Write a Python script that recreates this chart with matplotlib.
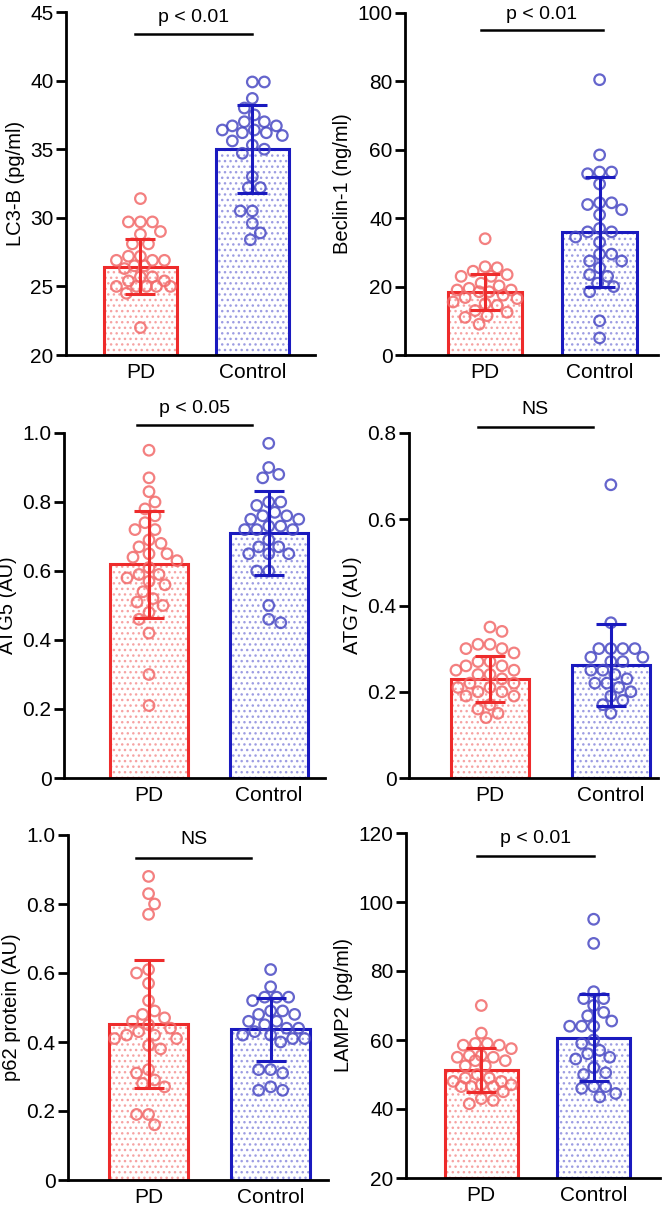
import numpy as np
import matplotlib
matplotlib.use("Agg")
from matplotlib import pyplot as plt

plt.rcParams['font.family'] = ['Liberation Sans', 'DejaVu Sans']

groups = ["PD", "Control"]

# LC3-B (pg/ml)
lc3_pd = [31.4, 29.7, 29.7, 29.7, 29.0, 28.8, 28.1, 28.1, 27.2, 27.2, 26.9, 26.9, 26.9, 26.5,
          26.5, 26.3, 25.7, 25.7, 25.4, 25.4, 25.0, 25.0, 25.0, 25.0, 25.0, 24.5, 22.0]
lc3_ctrl = [39.9, 39.9, 38.7, 38.0, 37.5, 37.0, 37.0, 36.7, 36.7, 36.4, 36.4, 36.2, 36.2, 36.0,
            35.6, 35.3, 35.0, 34.7, 33.0, 32.2, 32.2, 30.5, 30.5, 29.6, 28.9, 28.4]
lc3_mean = [26.45, 35.0]
lc3_sd = [2.0, 3.2]

# Beclin-1 (ng/ml)
beclin_pd = [34.0, 25.8, 25.5, 24.5, 23.5, 23.0, 23.0, 21.0, 20.2, 19.5, 19.0, 19.0, 18.5, 18.5,
             17.5, 16.8, 16.5, 15.5, 15.0, 14.5, 13.0, 12.5, 11.5, 11.0, 9.0]
beclin_ctrl = [80.5, 58.5, 53.5, 53.5, 53.0, 50.0, 44.5, 44.5, 44.0, 42.5, 41.0, 37.0, 36.0, 36.0,
               34.5, 33.0, 29.5, 29.5, 27.5, 27.5, 25.5, 23.5, 23.0, 21.0, 20.0, 18.5, 10.0, 5.0]
beclin_mean = [18.5, 36.0]
beclin_sd = [5.3, 16.0]

# ATG5 (AU)
atg5_pd = [0.95, 0.87, 0.83, 0.80, 0.78, 0.76, 0.74, 0.72, 0.72, 0.69, 0.68, 0.67, 0.65, 0.65,
           0.64, 0.63, 0.61, 0.59, 0.59, 0.58, 0.57, 0.56, 0.54, 0.52, 0.51, 0.50, 0.48, 0.46,
           0.42, 0.30, 0.21]
atg5_ctrl = [0.97, 0.90, 0.88, 0.87, 0.80, 0.80, 0.79, 0.77, 0.76, 0.76, 0.75, 0.75, 0.73, 0.73,
             0.72, 0.72, 0.72, 0.69, 0.67, 0.67, 0.65, 0.65, 0.65, 0.60, 0.60, 0.50, 0.46, 0.45]
atg5_mean = [0.62, 0.71]
atg5_sd = [0.155, 0.123]

# ATG7 (AU)
atg7_pd = [0.35, 0.34, 0.31, 0.31, 0.30, 0.30, 0.29, 0.27, 0.27, 0.26, 0.26, 0.25, 0.25, 0.24,
           0.24, 0.23, 0.22, 0.22, 0.21, 0.21, 0.20, 0.20, 0.19, 0.19, 0.17, 0.16, 0.15, 0.14]
atg7_ctrl = [0.68, 0.36, 0.30, 0.30, 0.30, 0.30, 0.28, 0.28, 0.27, 0.27, 0.25, 0.25, 0.24, 0.23,
             0.22, 0.22, 0.21, 0.20, 0.19, 0.18, 0.17, 0.15]
atg7_mean = [0.23, 0.263]
atg7_sd = [0.054, 0.095]

# p62 protein (AU)
p62_pd = [0.88, 0.83, 0.80, 0.77, 0.61, 0.60, 0.57, 0.52, 0.49, 0.48, 0.47, 0.46, 0.45, 0.44,
          0.43, 0.42, 0.42, 0.41, 0.41, 0.39, 0.38, 0.32, 0.31, 0.29, 0.28, 0.27, 0.19, 0.19, 0.16]
p62_ctrl = [0.61, 0.56, 0.53, 0.53, 0.53, 0.52, 0.49, 0.49, 0.48, 0.48, 0.46, 0.46, 0.45, 0.44,
            0.44, 0.43, 0.42, 0.42, 0.41, 0.41, 0.40, 0.32, 0.32, 0.31, 0.27, 0.26, 0.26]
p62_mean = [0.453, 0.437]
p62_sd = [0.185, 0.091]

# LAMP2 (pg/ml)
lamp_pd = [70, 62, 59, 59, 58.5, 58.5, 57.5, 55.5, 55.5, 55, 55, 54, 54, 52.5, 52.5, 50, 49, 49,
           48, 48, 47, 47, 46.5, 46.5, 46.5, 45, 43, 42.5, 41.5]
lamp_ctrl = [95, 88, 74, 72, 72, 70, 68, 67, 65.5, 64, 64, 64, 60, 59, 57, 56, 55, 54.5, 52,
             50.5, 50, 46.5, 46.5, 46, 44.5, 43.5]
lamp_mean = [51.4, 60.6]
lamp_sd = [6.4, 12.6]

ylabels = ["LC3-B (pg/ml)", "Beclin-1 (ng/ml)", "ATG5 (AU)", "ATG7 (AU)",
           "p62 protein (AU)", "LAMP2 (pg/ml)"]
sig_texts = ["p < 0.01", "p < 0.01", "p < 0.05", "NS", "NS", "p < 0.01"]
yticks = [[20, 25, 30, 35, 40, 45], [0, 20, 40, 60, 80, 100], [0, 0.2, 0.4, 0.6, 0.8, 1.0],
          [0, 0.2, 0.4, 0.6, 0.8], [0, 0.2, 0.4, 0.6, 0.8, 1.0], [20, 40, 60, 80, 100, 120]]
ytick_labels = [["20", "25", "30", "35", "40", "45"], ["0", "20", "40", "60", "80", "100"],
                ["0", "0.2", "0.4", "0.6", "0.8", "1.0"], ["0", "0.2", "0.4", "0.6", "0.8"],
                ["0", "0.2", "0.4", "0.6", "0.8", "1.0"], ["20", "40", "60", "80", "100", "120"]]

# layout (pixels in a 666x1207 figure): left, right, top, bottom
boxes = [(66, 315, 12, 355), (405, 658, 13, 355), (64, 325, 433, 778),
         (409, 658, 433, 778), (68, 328, 835, 1180), (406, 660, 833, 1178)]
xlims = [(-0.665, 1.56), (-0.70, 1.51), (-0.71, 1.47), (-0.67, 1.39), (-0.66, 1.47), (-0.67, 1.59)]
sig_line_y = [43.4, 94.9, 1.022, 0.813, 0.932, 113.4]
sig_text_y = [44.6, 99.6, 1.07, 0.854, 0.986, 118.5]
sig_x = [(-0.05, 1.0), (-0.04, 1.03), (-0.1, 0.86), (-0.1, 0.85), (-0.1, 0.84), (-0.04, 1.0)]

points = [(lc3_pd, lc3_ctrl), (beclin_pd, beclin_ctrl), (atg5_pd, atg5_ctrl),
          (atg7_pd, atg7_ctrl), (p62_pd, p62_ctrl), (lamp_pd, lamp_ctrl)]
means = [lc3_mean, beclin_mean, atg5_mean, atg7_mean, p62_mean, lamp_mean]
sds = [lc3_sd, beclin_sd, atg5_sd, atg7_sd, p62_sd, lamp_sd]

edge_cols = ['#ee2b2b', '#1a1abf']
dot_cols = ['#f6a3a3', '#9d9de2']
pt_cols = ['#f26a6a', '#4a4ac4']
BAR_W = 0.65


def swarm_offsets(vals, ppx, ppy, d=11.5, step=2.0, limit=30.0):
    # simple beeswarm: returns x offsets in data units, kept within +-limit px
    ys = np.asarray(vals, dtype=float) * ppy
    order = np.argsort(-ys, kind='stable')
    placed = []
    offs = np.zeros(len(ys))
    flip = 1
    for i in order:
        best, best_gap = 0.0, -1.0
        k = 0
        while k * step <= limit:
            cands = [0.0] if k == 0 else [flip * k * step, -flip * k * step]
            for c in cands:
                gap = min([np.hypot(c - px, ys[i] - py) for px, py in placed] or [1e9])
                if gap >= d:
                    best, best_gap = c, 1e9
                    break
                if gap > best_gap:
                    best, best_gap = c, gap
            if best_gap >= 1e9:
                break
            k += 1
        if best != 0:
            flip = -flip
        offs[i] = best
        placed.append((best, ys[i]))
    return offs / ppx


fig = plt.figure(figsize=(6.66, 12.07), dpi=100)
W, H = 666.0, 1207.0

for n in range(6):
    l, r, t, b = boxes[n]
    ax = fig.add_axes([l / W, 1 - b / H, (r - l) / W, (b - t) / H])
    ax.set_xlim(*xlims[n])
    ax.set_ylim(yticks[n][0], yticks[n][-1])

    for g in range(2):
        # dotted fill
        ax.bar(g, means[n][g] - yticks[n][0], bottom=yticks[n][0], width=BAR_W, color='white',
               edgecolor=dot_cols[g], hatch='...', linewidth=0, zorder=1)
        # outline
        ax.bar(g, means[n][g] - yticks[n][0], bottom=yticks[n][0], width=BAR_W, fill=False,
               edgecolor=edge_cols[g], linewidth=2.2, zorder=2)

    ppx = ax.transData.transform([[1, 0]])[0][0] - ax.transData.transform([[0, 0]])[0][0]
    ppy = ax.transData.transform([[0, 1]])[0][1] - ax.transData.transform([[0, 0]])[0][1]

    for g in range(2):
        vals = points[n][g]
        xs = g + swarm_offsets(vals, ppx, ppy, limit=BAR_W * ppx / 2 - 5)
        ax.scatter(xs, vals, s=58, facecolors='none', edgecolors=pt_cols[g],
                   linewidths=1.6, alpha=0.85, zorder=3, clip_on=False)
        ax.errorbar(g, means[n][g], yerr=sds[n][g], color=edge_cols[g], elinewidth=2.2,
                    capsize=11, capthick=2.2, zorder=4)

    ax.plot(sig_x[n], [sig_line_y[n]] * 2, color='black', lw=1.8, clip_on=False)
    ax.text(np.mean(sig_x[n]), sig_text_y[n], sig_texts[n], ha='center', va='center',
            fontsize=14)

    ax.spines['top'].set_visible(False)
    ax.spines['right'].set_visible(False)
    ax.spines['left'].set_linewidth(2.0)
    ax.spines['bottom'].set_linewidth(2.0)
    ax.set_yticks(yticks[n])
    ax.set_yticklabels(ytick_labels[n])
    ax.set_xticks([0, 1])
    ax.set_xticklabels(groups)
    ax.tick_params(axis='y', length=7, width=2.0, labelsize=15, pad=2)
    ax.tick_params(axis='x', length=0, labelsize=15, pad=6)
    ax.set_ylabel(ylabels[n], fontsize=14.5, labelpad=4)

fig.savefig("out.png", dpi=100)
